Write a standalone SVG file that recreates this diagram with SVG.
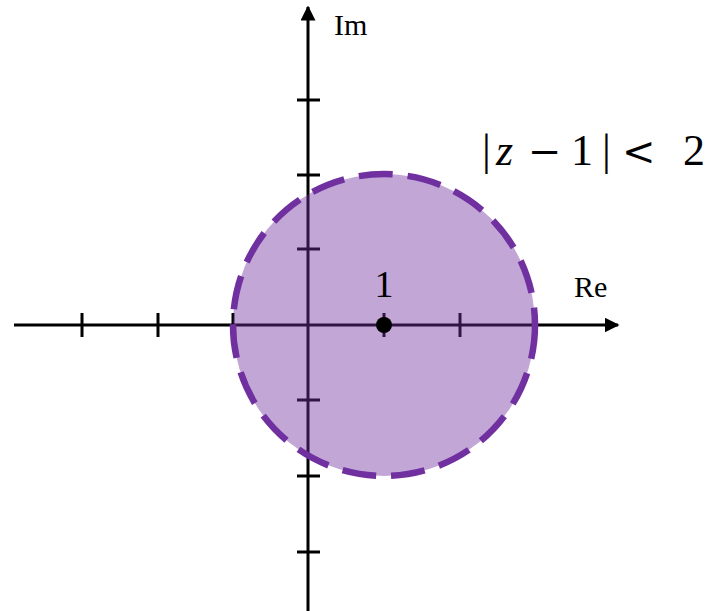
<svg xmlns="http://www.w3.org/2000/svg" width="712" height="611" viewBox="0 0 712 611">
<style>
.ax{stroke:#000;stroke-width:3;fill:none}
.tk{stroke:#000;stroke-width:3}
.lbl{font-family:"Liberation Serif",serif;fill:#000}
.op{font-family:"DejaVu Serif",serif;font-size:40px}
</style>
<defs>
<marker id="arr" viewBox="0 0 10 10" refX="9" refY="5" markerWidth="5" markerHeight="5" orient="auto" markerUnits="strokeWidth">
<path d="M0,0 L10,5 L0,10 z" fill="#000"/>
</marker>
</defs>
<g id="axes">
<line class="ax" x1="14" y1="325" x2="618" y2="325" marker-end="url(#arr)"/>
<line class="ax" x1="308" y1="611" x2="308" y2="7" marker-end="url(#arr)"/>
<g id="ticks">
<line class="tk" x1="82" y1="313" x2="82" y2="337"/>
<line class="tk" x1="158" y1="313" x2="158" y2="337"/>
<line class="tk" x1="233" y1="313" x2="233" y2="337"/>
<line class="tk" x1="384" y1="313" x2="384" y2="337"/>
<line class="tk" x1="460" y1="313" x2="460" y2="337"/>
<line class="tk" x1="535" y1="313" x2="535" y2="337"/>
<line class="tk" x1="297" y1="100" x2="320" y2="100"/>
<line class="tk" x1="297" y1="175" x2="320" y2="175"/>
<line class="tk" x1="297" y1="249" x2="320" y2="249"/>
<line class="tk" x1="297" y1="400" x2="320" y2="400"/>
<line class="tk" x1="297" y1="476" x2="320" y2="476"/>
<line class="tk" x1="297" y1="552" x2="320" y2="552"/>
</g>
</g>
<g id="disk">
<circle cx="384" cy="325" r="151" fill="#7030a0" fill-opacity="0.43" stroke="#7030a0" stroke-width="6.5" stroke-dasharray="34 15"/>
</g>
<g id="point">
<circle cx="384" cy="325" r="8" fill="#000"/>
<text class="lbl" x="384" y="297" font-size="38" text-anchor="middle">1</text>
</g>
<text class="lbl" x="334" y="35" font-size="30">Im</text>
<text class="lbl" x="574" y="297" font-size="30">Re</text>
<text class="lbl" y="165" font-size="44"><tspan x="482">|</tspan><tspan x="496" font-style="italic">z</tspan><tspan x="528" class="op">−</tspan><tspan x="571">1</tspan><tspan x="602">|</tspan><tspan x="622" class="op">&lt;</tspan><tspan x="683">2</tspan></text>
</svg>
